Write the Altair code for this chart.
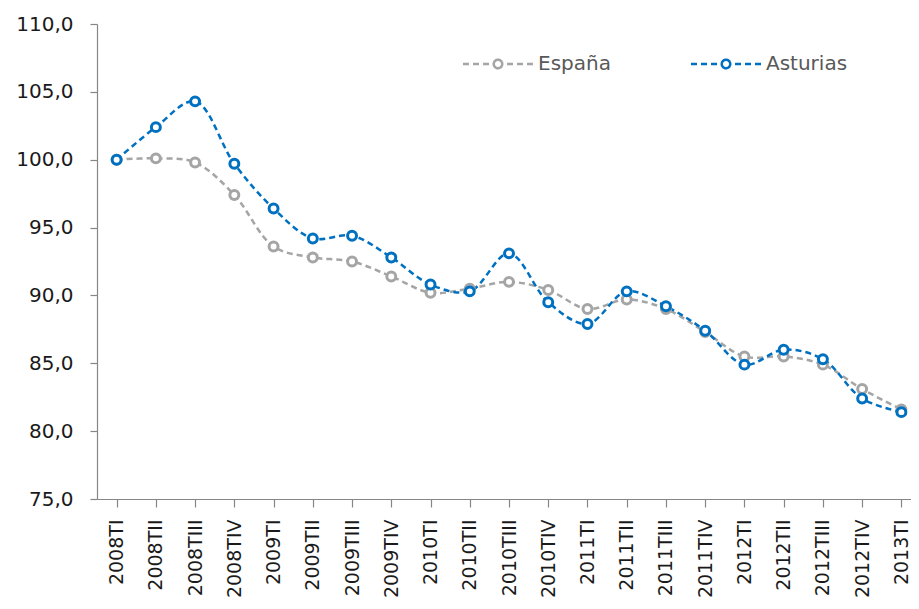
import altair as alt
import pandas as pd

quarters = ["2008TI", "2008TII", "2008TIII", "2008TIV",
            "2009TI", "2009TII", "2009TIII", "2009TIV",
            "2010TI", "2010TII", "2010TIII", "2010TIV",
            "2011TI", "2011TII", "2011TIII", "2011TIV",
            "2012TI", "2012TII", "2012TIII", "2012TIV",
            "2013TI"]
espana = [100.0, 100.1, 99.8, 97.4, 93.6, 92.8, 92.5, 91.4, 90.2, 90.5, 91.0,
          90.4, 89.0, 89.7, 89.0, 87.3, 85.5, 85.5, 84.9, 83.1, 81.6]
asturias = [100.0, 102.4, 104.3, 99.7, 96.4, 94.2, 94.4, 92.8, 90.8, 90.3, 93.1,
            89.5, 87.9, 90.3, 89.2, 87.4, 84.9, 86.0, 85.3, 82.4, 81.4]
series = ["España", "Asturias"]
colors = ["#A5A5A5", "#0070C0"]
y_ticks = [75, 80, 85, 90, 95, 100, 105, 110]

rows = []
for name, vals in zip(series, [espana, asturias]):
    for q, v in zip(quarters, vals):
        rows.append({"trimestre": q, "serie": name, "valor": v})
df = pd.DataFrame(rows)

FONT = "DejaVu Sans"
legend_path = ("M-7,0L-5.8,0M-5,0L-3.8,0M-3,0L-1.8,0"
               "M1.8,0L3,0M3.8,0L5,0M5.8,0L7,0"
               "M-0.85,0A0.85,0.85 0 1,1 0.85,0A0.85,0.85 0 1,1 -0.85,0Z")

x_enc = alt.X("trimestre:N", sort=quarters,
              scale=alt.Scale(paddingInner=0, paddingOuter=0),
              axis=alt.Axis(title=None, labelAngle=270, bandPosition=0,
                            tickSize=8, labelPadding=12, domainColor="#868686",
                            tickColor="#868686", labelFont=FONT, labelFontSize=19,
                            labelColor="#1a1a1a", domainWidth=1.2, tickWidth=1.2))
y_enc = alt.Y("valor:Q", scale=alt.Scale(domain=[75, 110], nice=False, zero=False),
              axis=alt.Axis(title=None, values=y_ticks, grid=False, tickSize=7,
                            labelPadding=17, domainColor="#868686", tickColor="#868686",
                            labelExpr="replace(format(datum.value, '.1f'), '.', ',')",
                            labelFont=FONT, labelFontSize=20, labelColor="#1a1a1a",
                            domainWidth=1.2, tickWidth=1.2))
stroke_enc = alt.Stroke("serie:N", sort=series,
                        scale=alt.Scale(domain=series, range=colors),
                        legend=alt.Legend(title=None, orient="none", direction="horizontal",
                                          legendX=361, legendY=30,
                                          symbolType=legend_path, symbolSize=100,
                                          symbolStrokeWidth=2.5, symbolFillColor="white",
                                          symbolDash=[1, 0], symbolOffset=30,
                                          labelOffset=30, columnPadding=75,
                                          labelFont=FONT, labelFontSize=20,
                                          labelColor="#595959", padding=0))

base = alt.Chart(df).encode(x=x_enc, y=y_enc, stroke=stroke_enc)

lines = base.mark_line(interpolate="catmull-rom", strokeDash=[6, 4], strokeWidth=2.5)
points = base.mark_point(shape="circle", filled=True, fill="white", size=80,
                         strokeWidth=3, opacity=1)

chart = alt.layer(lines, points).properties(
    width=824, height=475,
    autosize=alt.AutoSizeParams(type="none"),
    padding={"left": 89, "top": 16, "right": -10, "bottom": 98},
    background="white",
).configure_view(stroke=None)

chart.save("out.html", embed_options={"renderer": "svg", "actions": False})
